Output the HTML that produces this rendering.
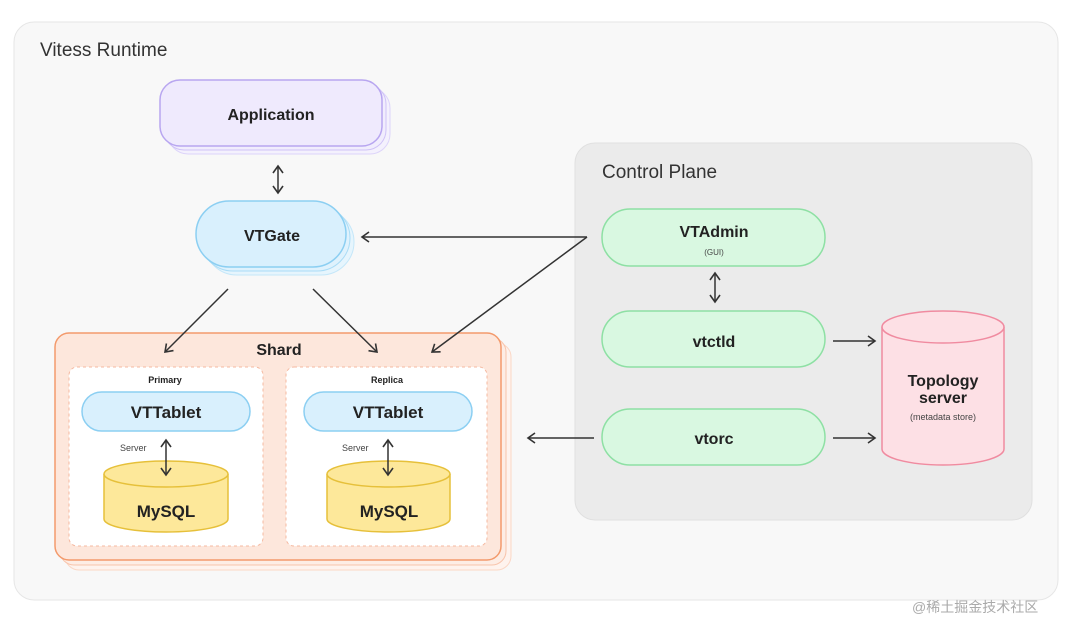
<!DOCTYPE html>
<html><head><meta charset="utf-8"><style>
html,body{margin:0;padding:0;background:#fff;width:1080px;height:622px;overflow:hidden}
svg{display:block;font-family:"Liberation Sans","Noto Sans CJK SC",sans-serif}
.b{font-weight:bold;fill:#222}
</style></head><body>
<svg width="1080" height="622" viewBox="0 0 1080 622">
<defs><marker id="a" markerWidth="12" markerHeight="12" refX="9" refY="6" orient="auto-start-reverse" markerUnits="userSpaceOnUse"><path d="M2,1 L9,6 L2,11" fill="none" stroke="#333" stroke-width="1.6"/></marker></defs>
<rect x="14" y="22" width="1044" height="578" rx="20" fill="#f8f8f8" stroke="#e6e6e6"/>
<text x="40" y="56" font-size="19" fill="#333">Vitess Runtime</text>
<!-- Application -->
<rect x="168" y="88" width="222" height="66" rx="20" fill="#f4f1fd" stroke="#ddd4fa"/>
<rect x="164" y="84" width="222" height="66" rx="20" fill="#f1edfd" stroke="#cfc2f7"/>
<rect x="160" y="80" width="222" height="66" rx="20" fill="#efeafd" stroke="#b8a6f0" stroke-width="1.5"/>
<text x="271" y="120" font-size="16" class="b" text-anchor="middle">Application</text>
<line x1="278" y1="166" x2="278" y2="193" stroke="#333" stroke-width="1.5" marker-start="url(#a)" marker-end="url(#a)"/>
<!-- VTGate -->
<rect x="204" y="209" width="150" height="66" rx="33" fill="#e6f5fd" stroke="#c5e7f9"/>
<rect x="200" y="205" width="150" height="66" rx="33" fill="#dff2fd" stroke="#aadcf6"/>
<rect x="196" y="201" width="150" height="66" rx="33" fill="#d9f0fd" stroke="#8ccff2" stroke-width="1.5"/>
<text x="272" y="241" font-size="16" class="b" text-anchor="middle">VTGate</text>
<!-- Control plane -->
<rect x="575" y="143" width="457" height="377" rx="20" fill="#ebebeb" stroke="#e0e0e0"/>
<text x="602" y="178" font-size="19" fill="#333">Control Plane</text>
<rect x="602" y="209" width="223" height="57" rx="28" fill="#d9f8e1" stroke="#8ee0a4" stroke-width="1.5"/>
<text x="714" y="237" font-size="16" class="b" text-anchor="middle">VTAdmin</text>
<text x="714" y="255" font-size="8" fill="#444" text-anchor="middle">(GUI)</text>
<line x1="715" y1="273" x2="715" y2="302" stroke="#333" stroke-width="1.5" marker-start="url(#a)" marker-end="url(#a)"/>
<rect x="602" y="311" width="223" height="56" rx="28" fill="#d9f8e1" stroke="#8ee0a4" stroke-width="1.5"/>
<text x="714" y="347" font-size="16" class="b" text-anchor="middle">vtctld</text>
<rect x="602" y="409" width="223" height="56" rx="28" fill="#d9f8e1" stroke="#8ee0a4" stroke-width="1.5"/>
<text x="714" y="444" font-size="16" class="b" text-anchor="middle">vtorc</text>
<!-- topology -->
<path d="M882,327 L882,449 A61,16 0 0 0 1004,449 L1004,327" fill="#fde0e5" stroke="#f08ba0" stroke-width="1.5"/>
<ellipse cx="943" cy="327" rx="61" ry="16" fill="#fde0e5" stroke="#f08ba0" stroke-width="1.5"/>
<text x="943" y="386" font-size="16" class="b" text-anchor="middle">Topology</text>
<text x="943" y="403" font-size="16" class="b" text-anchor="middle">server</text>
<text x="943" y="420" font-size="9" fill="#444" text-anchor="middle">(metadata store)</text>
<line x1="833" y1="341" x2="875" y2="341" stroke="#333" stroke-width="1.5" marker-end="url(#a)"/>
<line x1="833" y1="438" x2="875" y2="438" stroke="#333" stroke-width="1.5" marker-end="url(#a)"/>
<line x1="594" y1="438" x2="528" y2="438" stroke="#333" stroke-width="1.5" marker-end="url(#a)"/>
<line x1="587" y1="237" x2="362" y2="237" stroke="#333" stroke-width="1.5" marker-end="url(#a)"/>
<!-- Shard -->
<rect x="65" y="343" width="446" height="227" rx="14" fill="#fef3ee" stroke="#fbd7c5"/>
<rect x="60" y="338" width="446" height="227" rx="14" fill="#fdede5" stroke="#f8c4ab"/>
<rect x="55" y="333" width="446" height="227" rx="14" fill="#fde7dc" stroke="#f39a6c" stroke-width="1.5"/>
<text x="279" y="355" font-size="16" class="b" text-anchor="middle">Shard</text>
<line x1="587" y1="237" x2="432" y2="352" stroke="#333" stroke-width="1.5" marker-end="url(#a)"/>
<line x1="228" y1="289" x2="165" y2="352" stroke="#333" stroke-width="1.5" marker-end="url(#a)"/>
<line x1="313" y1="289" x2="377" y2="352" stroke="#333" stroke-width="1.5" marker-end="url(#a)"/>
<rect x="69" y="367" width="194" height="179" rx="8" fill="#fff" stroke="#f5b9a0" stroke-dasharray="3,3"/>
<text x="165" y="383" font-size="9" class="b" text-anchor="middle">Primary</text>
<rect x="82" y="392" width="168" height="39" rx="19.5" fill="#d9f0fd" stroke="#8ccff2" stroke-width="1.5"/>
<text x="166" y="418" font-size="17" class="b" text-anchor="middle">VTTablet</text>
<text x="120" y="451" font-size="9" fill="#444">Server</text>
<path d="M104,474 L104,519 A62,13 0 0 0 228,519 L228,474" fill="#fde89a" stroke="#e6c03a" stroke-width="1.5"/>
<ellipse cx="166" cy="474" rx="62" ry="13" fill="#fde89a" stroke="#e6c03a" stroke-width="1.5"/>
<line x1="166" y1="440" x2="166" y2="475" stroke="#333" stroke-width="1.5" marker-start="url(#a)" marker-end="url(#a)"/>
<text x="166" y="517" font-size="17" class="b" text-anchor="middle">MySQL</text>
<rect x="286" y="367" width="201" height="179" rx="8" fill="#fff" stroke="#f5b9a0" stroke-dasharray="3,3"/>
<text x="387" y="383" font-size="9" class="b" text-anchor="middle">Replica</text>
<rect x="304" y="392" width="168" height="39" rx="19.5" fill="#d9f0fd" stroke="#8ccff2" stroke-width="1.5"/>
<text x="388" y="418" font-size="17" class="b" text-anchor="middle">VTTablet</text>
<text x="342" y="451" font-size="9" fill="#444">Server</text>
<path d="M327,474 L327,519 A61.5,13 0 0 0 450,519 L450,474" fill="#fde89a" stroke="#e6c03a" stroke-width="1.5"/>
<ellipse cx="388.5" cy="474" rx="61.5" ry="13" fill="#fde89a" stroke="#e6c03a" stroke-width="1.5"/>
<line x1="388" y1="440" x2="388" y2="475" stroke="#333" stroke-width="1.5" marker-start="url(#a)" marker-end="url(#a)"/>
<text x="389" y="517" font-size="17" class="b" text-anchor="middle">MySQL</text>
<text x="912" y="612" font-size="14" fill="#aaa">@稀土掘金技术社区</text>
</svg>
</body></html>
